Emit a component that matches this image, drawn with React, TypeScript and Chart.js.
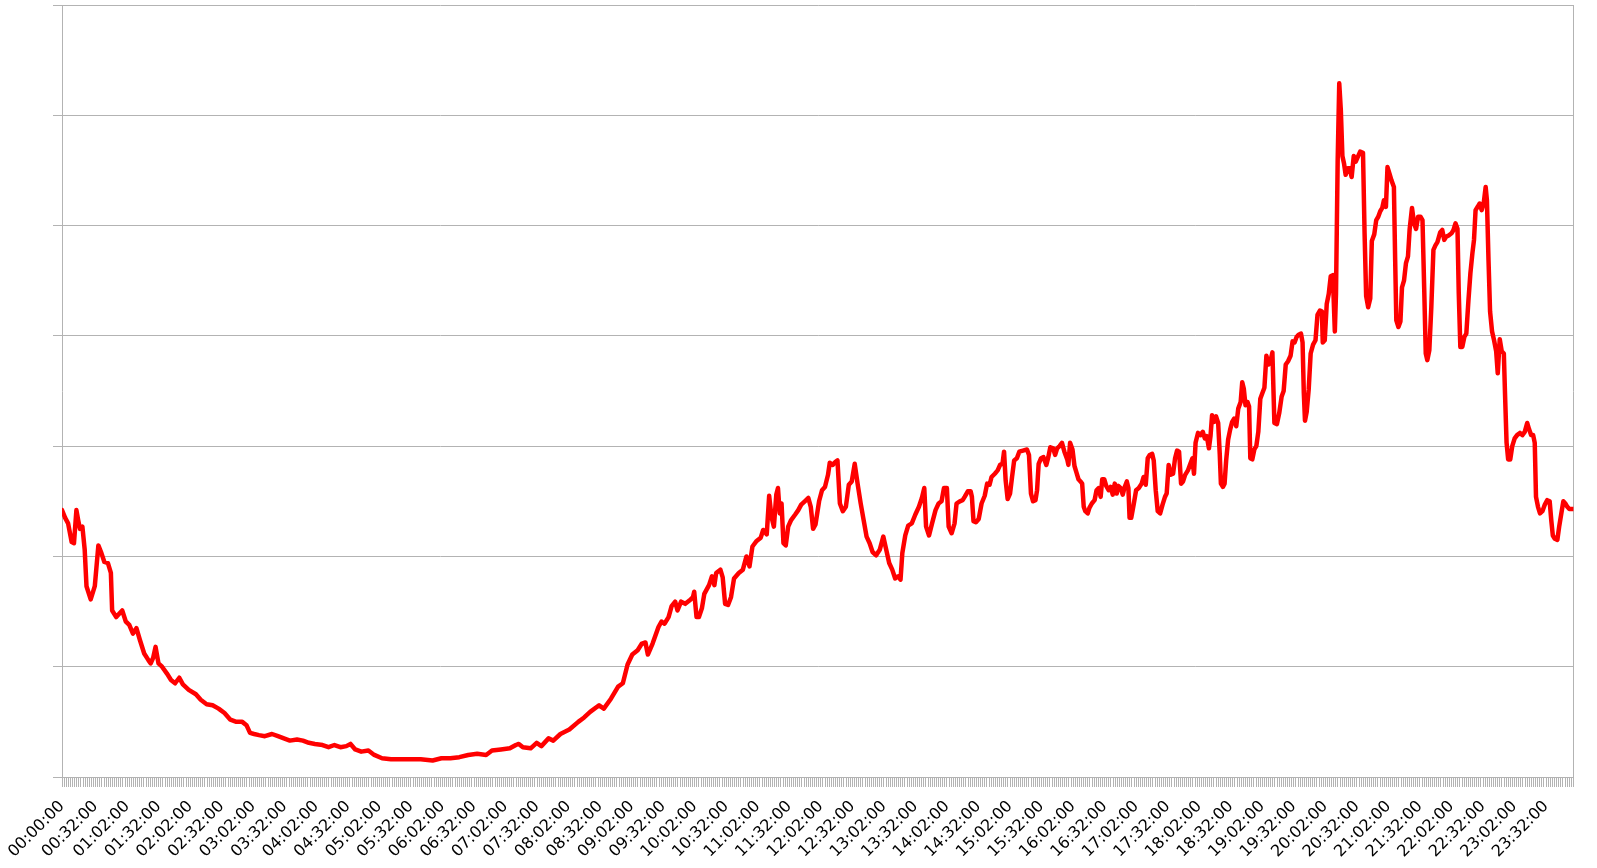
import React, { useEffect, useRef } from 'react';
import { Chart, registerables } from 'chart.js';

Chart.register(...registerables);

// Sample times (minutes after midnight) and values
const SAMPLE_MINUTES: number[] = [
  0, 3, 5.8, 9.2, 11.4, 13.7, 15.4, 17.1, 19.4, 21.6, 23.3, 27.3, 31.2, 34.6, 37.5, 40.3, 43.7, 46.5, 47.7, 51.6,
  54.4, 57.3, 60.7, 64, 67.5, 70.8, 74.2, 78.2, 82.2, 84.4, 86.7, 89, 91.8, 95.2, 99.7, 103.7, 107.6, 111.6, 115, 120.6,
  127.4, 132, 137.6, 143.3, 149, 154.6, 160.2, 165.9, 171.5, 175.5, 178.9, 182.8, 187.4, 193, 199.8, 205.5, 211.1, 216.8, 223.6, 229.2,
  234.9, 240.6, 247.9, 253.6, 259.2, 264.9, 270.5, 274.5, 279, 284.7, 291.5, 297.1, 304.5, 313, 321.5, 330, 341.3, 352.6, 361, 369.5,
  378, 386.5, 395, 403.5, 409.1, 417.6, 426.1, 431.8, 434.6, 438.5, 445.9, 451.6, 456.1, 462.9, 467.4, 474.2, 482.7, 491.2, 496.8, 502.5,
  511, 515.5, 522.3, 529.1, 533.6, 538.1, 542.6, 547.7, 551.7, 555.1, 557.4, 561.9, 567.5, 570.4, 573.2, 577.1, 580, 583.4, 585.6, 589,
  593, 596.9, 600.3, 601.5, 603.7, 606, 608.8, 611.1, 615.6, 618.4, 620.7, 622.4, 626.4, 628.6, 630.9, 633.7, 636.5, 639.4, 643.9, 647.8,
  651.2, 654.1, 656.9, 660.9, 664.8, 667.1, 670.5, 672.8, 675, 677.3, 679.6, 681.2, 682.9, 684.6, 686.4, 688.6, 690.9, 693.7, 697.6, 700.5,
  703.3, 706.7, 710.1, 712.4, 714.6, 716.9, 720.3, 723.1, 725.9, 728.8, 730.5, 733.3, 736.2, 737.8, 740.1, 742.9, 745.8, 748.6, 751.4, 754.2,
  757.1, 759.9, 762.7, 765.5, 768.4, 771.2, 774.6, 778, 781.4, 784.2, 787, 789.9, 792.7, 795.5, 797.8, 799.5, 802.3, 805.1, 808.5, 811.9,
  815.3, 818.1, 820.4, 822.1, 824.9, 827.8, 831.1, 834, 836.8, 839.1, 841.9, 843.6, 846.4, 849.2, 851.1, 854.2, 856.9, 858.8, 861.8, 864.5,
  865.7, 867.2, 869.5, 872.2, 874.9, 877.9, 880.2, 882.5, 884.4, 887.5, 890.2, 892.5, 894.8, 896.3, 897.8, 899.7, 902, 903.9, 905.9, 908.5,
  910.8, 914.3, 918.1, 920, 921.9, 923.9, 926.2, 927.7, 929.2, 931.5, 933.8, 936.5, 938.4, 940.3, 943, 944.9, 946.8, 949.1, 951.4, 953.7,
  956.4, 957.5, 959.1, 961.4, 963.3, 965.2, 967.1, 969, 970.6, 972.1, 973.6, 975.9, 977.5, 979.8, 982.4, 984.3, 986.3, 988.2, 989.7, 991.6,
  993.5, 995.8, 997.7, 999.7, 1001.6, 1003.5, 1005, 1007.3, 1009.2, 1011.1, 1013.1, 1014.6, 1015.7, 1017.3, 1019.6, 1021.9, 1024.5, 1027.2, 1029.1, 1031.1,
  1033, 1034.9, 1037.2, 1038.7, 1040.6, 1042.5, 1044.8, 1047.1, 1049.4, 1051, 1052.9, 1054.8, 1057.1, 1059, 1060.9, 1062.8, 1064.7, 1066.6, 1068.6, 1071.2,
  1073.1, 1075.5, 1077, 1078.5, 1080.8, 1083.1, 1085.4, 1087.3, 1089.2, 1091.2, 1092.7, 1094.2, 1096.1, 1098, 1100, 1101.5, 1102.6, 1104.5, 1106.1, 1107.6,
  1109.5, 1111.4, 1113.3, 1115.3, 1117.2, 1119.1, 1121.4, 1122.9, 1124.4, 1126, 1127.9, 1129.4, 1130.6, 1132.5, 1134.4, 1136.3, 1138.2, 1140.1, 1142, 1144,
  1145.9, 1147.8, 1149.7, 1151.6, 1153.5, 1155.9, 1158.1, 1160.4, 1162.3, 1164.3, 1166.5, 1168.9, 1170.8, 1172.7, 1174.6, 1176.5, 1178.8, 1180.3, 1181.5, 1182.6,
  1184.2, 1186.1, 1188, 1190.3, 1192.6, 1194.5, 1196.8, 1198.7, 1199.5, 1201.4, 1203.3, 1205.2, 1207.1, 1209.1, 1211, 1212.1, 1213.7, 1215.2, 1216.7, 1218.2,
  1219.8, 1221.3, 1223.2, 1225.1, 1227, 1229, 1230.9, 1233.2, 1235.1, 1237.8, 1239.3, 1240.8, 1242.7, 1244.7, 1246.2, 1248.5, 1250.4, 1252.3, 1254.2, 1256.1,
  1257.7, 1259.6, 1261.1, 1263, 1264.9, 1267.2, 1268.4, 1269.5, 1271.5, 1273.4, 1274.9, 1276.8, 1278.7, 1280.6, 1282.2, 1284.4, 1286.4, 1288.3, 1290.2, 1292.5,
  1294.4, 1296, 1297.5, 1299, 1300.9, 1302.8, 1304.8, 1306.7, 1308.6, 1311.3, 1313.2, 1315.1, 1317, 1319.3, 1322, 1323.9, 1325.8, 1327.7, 1328.9, 1330.4,
  1332.3, 1334.2, 1336.1, 1338.1, 1340, 1341.9, 1343.4, 1344.9, 1346.9, 1348.8, 1350.7, 1352.6, 1354.5, 1355.7, 1357.2, 1358.7, 1360.6, 1362.5, 1364.5, 1366,
  1367.9, 1369.8, 1371.8, 1372.9, 1374.4, 1375.9, 1377.9, 1379.8, 1382.1, 1384.4, 1387.1, 1389.4, 1391.7, 1394, 1395.9, 1397.8, 1399.7, 1401.2, 1402.4, 1404.3,
  1406.2, 1408.5, 1410.8, 1413.1, 1415.4, 1416.9, 1418.4, 1420.3, 1422.7, 1424.6, 1426.5, 1428.4, 1430.3, 1432.2, 1434.1, 1436.8, 1438,
];

const SAMPLE_VALUES: number[] = [
  24.2, 23.5, 23.0, 21.3, 21.2, 24.2, 23.3, 22.5, 22.7, 20.6, 17.3, 16.1, 17.3, 21.0, 20.3, 19.5, 19.4, 18.5, 15.1, 14.5,
  14.8, 15.1, 14.1, 13.8, 13.0, 13.5, 12.4, 11.2, 10.6, 10.3, 10.8, 11.8, 10.3, 10.0, 9.4, 8.8, 8.5, 9.0, 8.4, 7.9,
  7.5, 7.0, 6.6, 6.5, 6.2, 5.8, 5.2, 5.0, 5.0, 4.7, 4.0, 3.9, 3.8, 3.7, 3.9, 3.7, 3.5, 3.3, 3.4, 3.3,
  3.1, 3.0, 2.9, 2.7, 2.9, 2.7, 2.8, 3.0, 2.5, 2.3, 2.4, 2.0, 1.7, 1.6, 1.6, 1.6, 1.6, 1.5, 1.7, 1.7,
  1.8, 2.0, 2.1, 2.0, 2.4, 2.5, 2.6, 2.9, 3.0, 2.7, 2.6, 3.1, 2.8, 3.5, 3.3, 3.9, 4.3, 5.0, 5.4, 5.9,
  6.5, 6.2, 7.1, 8.2, 8.5, 10.2, 11.1, 11.5, 12.1, 12.2, 11.1, 12.1, 13.6, 14.1, 13.9, 14.5, 15.5, 15.9, 15.1, 15.9,
  15.7, 16.0, 16.3, 16.8, 14.5, 14.5, 15.3, 16.6, 17.4, 18.2, 17.4, 18.5, 18.8, 18.1, 15.7, 15.6, 16.3, 18.0, 18.5, 18.8,
  20.0, 19.1, 20.9, 21.4, 21.7, 22.4, 22.0, 25.5, 23.6, 22.7, 25.6, 26.2, 23.9, 24.8, 21.2, 21.0, 22.7, 23.3, 23.8, 24.2,
  24.7, 25.0, 25.3, 24.5, 22.5, 22.9, 25.0, 26.0, 26.3, 27.4, 28.5, 28.3, 28.6, 28.7, 24.8, 24.1, 24.5, 26.5, 26.8, 28.4,
  26.5, 24.8, 23.3, 21.8, 21.2, 20.4, 20.1, 20.6, 21.8, 20.6, 19.4, 18.8, 18.0, 18.2, 17.9, 20.3, 21.9, 22.8, 23.0, 23.8,
  24.5, 25.3, 26.2, 22.7, 21.9, 23.0, 24.2, 24.8, 25.0, 26.2, 26.2, 22.7, 22.1, 23.0, 24.8, 25.0, 25.1, 25.4, 25.9, 25.9,
  25.4, 23.2, 23.1, 23.4, 24.8, 25.5, 26.6, 26.5, 27.2, 27.5, 27.8, 28.3, 28.4, 29.5, 26.9, 25.2, 25.7, 27.2, 28.7, 28.9,
  29.5, 29.6, 29.7, 29.2, 25.7, 25.0, 25.1, 26.0, 28.4, 28.9, 29.0, 28.3, 29.0, 29.9, 29.8, 29.2, 29.8, 30.0, 30.3, 29.5,
  28.8, 28.3, 30.3, 29.7, 28.2, 27.6, 27.0, 26.8, 26.6, 24.5, 24.1, 23.9, 24.4, 24.8, 25.1, 26.0, 26.2, 25.4, 27.0, 27.0,
  26.4, 26.0, 26.3, 25.6, 26.6, 25.7, 26.4, 26.2, 25.6, 26.3, 26.8, 26.2, 23.5, 23.5, 24.7, 26.0, 26.2, 26.6, 27.2, 26.5,
  28.9, 29.2, 29.3, 28.7, 26.0, 24.1, 23.9, 24.7, 25.4, 25.7, 28.3, 27.4, 27.5, 28.9, 29.6, 29.5, 26.6, 26.8, 27.4, 27.8,
  28.3, 28.9, 27.5, 30.3, 31.2, 31.0, 31.3, 30.7, 30.9, 29.8, 30.9, 32.8, 32.2, 32.7, 32.1, 29.3, 26.6, 26.3, 26.6, 28.7,
  30.6, 31.5, 32.2, 32.5, 31.8, 33.4, 34.0, 35.8, 35.2, 33.7, 34.0, 33.6, 28.9, 28.8, 29.7, 30.0, 31.3, 34.3, 34.8, 35.3,
  38.2, 37.4, 37.7, 38.5, 32.1, 32.0, 33.0, 34.5, 35.0, 37.4, 37.7, 38.2, 39.5, 39.4, 39.9, 40.1, 40.2, 39.4, 34.8, 32.3,
  33.1, 35.1, 38.4, 39.2, 39.6, 41.9, 42.3, 42.2, 39.4, 39.6, 42.9, 43.8, 45.4, 45.5, 40.4, 43.8, 55.9, 62.9, 60.5, 56.3,
  55.6, 54.6, 55.2, 55.2, 54.4, 56.3, 55.8, 56.3, 56.7, 56.6, 49.3, 43.6, 42.6, 43.4, 48.6, 49.2, 50.5, 50.8, 51.3, 51.6,
  52.3, 51.7, 55.3, 54.7, 54.1, 53.5, 46.9, 41.4, 40.8, 41.3, 44.4, 45.0, 46.6, 47.2, 49.7, 51.6, 50.2, 49.7, 50.8, 50.8,
  50.5, 44.4, 38.4, 37.8, 38.7, 42.6, 47.8, 48.2, 48.5, 49.4, 49.6, 48.7, 49.0, 49.1, 49.3, 49.6, 50.2, 49.7, 43.9, 39.0,
  39.0, 39.9, 40.2, 43.2, 45.7, 47.5, 48.7, 51.4, 51.7, 52.0, 51.4, 52.0, 53.5, 52.3, 46.9, 42.2, 40.4, 39.6, 38.6, 36.6,
  39.7, 38.6, 38.4, 34.8, 30.3, 28.8, 28.8, 30.0, 30.7, 31.0, 31.2, 31.0, 31.3, 32.1, 31.5, 31.0, 31.0, 30.3, 25.4, 24.5,
  23.9, 24.1, 24.7, 25.1, 25.0, 23.3, 21.9, 21.6, 21.5, 22.8, 23.9, 25.0, 24.8, 24.5, 24.3, 24.3, 24.3,
];

// Category labels shown on the time axis
const TICK_LABELS: string[] = [
  '00:00:00', '00:32:00', '01:02:00', '01:32:00', '02:02:00', '02:32:00', '03:02:00', '03:32:00',
  '04:02:00', '04:32:00', '05:02:00', '05:32:00', '06:02:00', '06:32:00', '07:02:00', '07:32:00',
  '08:02:00', '08:32:00', '09:02:00', '09:32:00', '10:02:00', '10:32:00', '11:02:00', '11:32:00',
  '12:02:00', '12:32:00', '13:02:00', '13:32:00', '14:02:00', '14:32:00', '15:02:00', '15:32:00',
  '16:02:00', '16:32:00', '17:02:00', '17:32:00', '18:02:00', '18:32:00', '19:02:00', '19:32:00',
  '20:02:00', '20:32:00', '21:02:00', '21:32:00', '22:02:00', '22:32:00', '23:02:00', '23:32:00',
];

const X_FIRST_MINUTE = 0;
const X_LAST_MINUTE = 1438;
const X_STEP_MINUTES = 2;
const Y_MIN = 0;
const Y_MAX = 70;
const Y_STEP = 10;

function formatMinute(m: number): string {
  const total = Math.round(m);
  const h = Math.floor(total / 60);
  const mm = total % 60;
  return `${String(h).padStart(2, '0')}:${String(mm).padStart(2, '0')}:00`;
}

export default function App() {
  const canvasRef = useRef<HTMLCanvasElement>(null);

  useEffect(() => {
    if (!canvasRef.current) return;
    const points = SAMPLE_MINUTES.map((x, i) => ({ x, y: SAMPLE_VALUES[i] }));
    const GRID = '#b3b3b3';
    const chart = new Chart(canvasRef.current, {
      type: 'line',
      data: {
        datasets: [
          {
            data: points,
            borderColor: '#ff0000',
            backgroundColor: '#ff0000',
            borderWidth: 4.5,
            pointRadius: 0,
            tension: 0,
            fill: false,
            borderJoinStyle: 'round',
            borderCapStyle: 'round',
          },
        ],
      },
      options: {
        animation: false,
        responsive: false,
        devicePixelRatio: 1,
        layout: { padding: { top: 5, left: 0, right: 0, bottom: 0 } },
        plugins: { legend: { display: false }, tooltip: { enabled: false } },
        scales: {
          x: {
            type: 'linear',
            min: X_FIRST_MINUTE,
            max: X_LAST_MINUTE,
            afterFit: (s: any) => { s.height = 91; },
            grid: { drawOnChartArea: false, color: GRID, tickLength: 10 },
            border: { color: GRID },
            ticks: {
              stepSize: X_STEP_MINUTES,
              autoSkip: false,
              maxRotation: 45,
              minRotation: 45,
              padding: 10,
              color: '#000000',
              font: { family: '"DejaVu Sans", sans-serif', size: 16 },
              callback: (v: any) => {
                const s = formatMinute(Number(v));
                return TICK_LABELS.includes(s) ? s : '';
              },
            },
          },
          y: {
            min: Y_MIN,
            max: Y_MAX,
            afterFit: (s: any) => { s.width = 62; },
            grid: { color: GRID, tickLength: 9 },
            border: { color: GRID },
            ticks: { stepSize: Y_STEP, display: false },
          },
          y2: {
            position: 'right',
            min: 0,
            max: 1,
            afterFit: (s: any) => { s.width = 11; },
            grid: { drawOnChartArea: false, drawTicks: false },
            border: { color: GRID },
            ticks: { display: false },
          },
        },
      },
    });
    return () => chart.destroy();
  }, []);

  return (
    <div style={{ position: 'fixed', left: 0, top: 0, width: 1597, height: 868, background: '#ffffff' }}>
      <canvas ref={canvasRef} width={1597} height={868} style={{ display: 'block' }} />
    </div>
  );
}
